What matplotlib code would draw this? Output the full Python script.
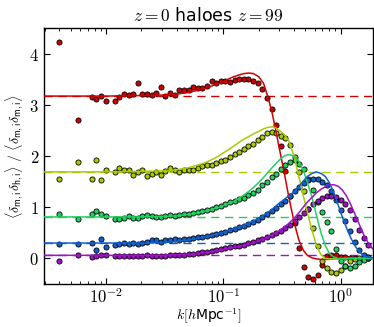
"""Cross-correlation bias of haloes vs. initial matter field, z=0 haloes, z=99 ICs."""

import matplotlib

matplotlib.use("Agg")
import matplotlib.pyplot as plt
import numpy as np
from matplotlib.ticker import FixedLocator, FuncFormatter, LogLocator, NullFormatter

# measured k bins [h/Mpc]
k = [0.0040, 0.0058,
     0.00755, 0.00827, 0.00905, 0.00991,
     0.01188, 0.01300, 0.01423, 0.01558, 0.01706, 0.01867, 0.02044, 0.02237,
     0.02449, 0.02681, 0.02935, 0.03213, 0.03517, 0.03850, 0.04214, 0.04613,
     0.05050, 0.05528, 0.06053, 0.06626, 0.07253, 0.07941, 0.08693, 0.09517,
     0.1042, 0.1140, 0.1248, 0.1367, 0.1496, 0.1638, 0.1793, 0.1963, 0.2149,
     0.2352, 0.2575, 0.2819, 0.3086, 0.3379, 0.3698, 0.4049, 0.4432, 0.4852,
     0.5312, 0.5815, 0.6366, 0.6969, 0.7629, 0.8351, 0.9141, 1.0007, 1.0955,
     1.1993, 1.3128, 1.4372, 1.5733, 1.7223]

ratio_red = [4.22, 2.71, 3.16, 3.12, 3.17, 3.07, 3.07, 3.15, 3.21, 3.19, 3.22, 3.42,
             3.22, 3.22, 3.19, 3.23, 3.34, 3.17, 3.23, 3.20, 3.28, 3.29, 3.29, 3.34,
             3.32, 3.32, 3.36, 3.46, 3.42, 3.46, 3.47, 3.44, 3.49, 3.51, 3.51, 3.50,
             3.47, 3.42, 3.30, 3.13, 2.91, 2.60, 2.19, 1.71, 1.21, 0.69, 0.20, -0.16,
             -0.36, -0.40, -0.32, -0.12, 0.05, 0.07, 0.07, 0.02, 0.02, 0.00, 0.00,
             -0.01, 0.00, 0.00]
ratio_yellow = [1.56, 1.88, 1.56, 1.93, 1.54, 1.73, 1.68, 1.77, 1.73, 1.73, 1.63, 1.68,
                1.73, 1.60, 1.65, 1.68, 1.63, 1.70, 1.76, 1.72, 1.68, 1.72, 1.72, 1.73,
                1.76, 1.80, 1.82, 1.83, 1.86, 1.90, 1.93, 1.98, 2.03, 2.08, 2.13, 2.19,
                2.24, 2.31, 2.38, 2.44, 2.46, 2.45, 2.39, 2.35, 2.22, 1.98, 1.68, 1.32,
                0.97, 0.59, 0.24, -0.05, -0.18, -0.27, -0.29, -0.22, -0.14, -0.05,
                -0.02, 0.00, 0.00, 0.01]
ratio_green = [0.87, 0.76, 0.87, 0.92, 0.87, 0.82, 0.76, 0.77, 0.79, 0.82, 0.78, 0.79,
               0.82, 0.84, 0.82, 0.80, 0.80, 0.82, 0.84, 0.82, 0.84, 0.86, 0.87, 0.88,
               0.90, 0.92, 0.95, 0.97, 1.00, 1.03, 1.07, 1.10, 1.13, 1.16, 1.18, 1.23,
               1.28, 1.34, 1.43, 1.50, 1.59, 1.65, 1.75, 1.83, 1.89, 1.92, 1.85, 1.75,
               1.56, 1.33, 1.10, 0.90, 0.72, 0.54, 0.18, -0.05, -0.14, -0.18, -0.14,
               -0.08, -0.03, 0.00]
ratio_blue = [0.29, 0.28, 0.31, 0.17, 0.38, 0.22, 0.26, 0.28, 0.30, 0.29, 0.30, 0.29,
              0.30, 0.33, 0.35, 0.35, 0.33, 0.35, 0.35, 0.37, 0.36, 0.37, 0.38, 0.39,
              0.41, 0.41, 0.43, 0.45, 0.47, 0.50, 0.52, 0.55, 0.58, 0.61, 0.64, 0.67,
              0.72, 0.75, 0.80, 0.86, 0.92, 0.99, 1.06, 1.13, 1.22, 1.31, 1.40, 1.47,
              1.53, 1.56, 1.55, 1.50, 1.43, 1.31, 1.15, 0.95, 0.74, 0.53, 0.33, 0.17,
              0.06, 0.02]
ratio_purple = [-0.05, 0.06, 0.03, 0.05, 0.07, 0.07, 0.05, 0.05, 0.05, 0.04, 0.04, 0.05,
                0.05, 0.06, 0.05, 0.05, 0.05, 0.05, 0.06, 0.06, 0.07, 0.07, 0.08, 0.09,
                0.10, 0.12, 0.13, 0.15, 0.16, 0.18, 0.20, 0.22, 0.24, 0.25, 0.27, 0.30,
                0.32, 0.35, 0.38, 0.41, 0.45, 0.49, 0.54, 0.60, 0.66, 0.73, 0.81, 0.89,
                0.97, 1.06, 1.12, 1.18, 1.21, 1.22, 1.20, 1.15, 1.07, 0.94, 0.76, 0.56,
                0.39, 0.26]

k_model = [0.003, 0.01, 0.02, 0.03, 0.04, 0.05, 0.06, 0.07, 0.08, 0.09, 0.10, 0.11,
           0.12, 0.135, 0.15, 0.165, 0.18, 0.20, 0.22, 0.24, 0.26, 0.28, 0.30, 0.33,
           0.36, 0.40, 0.44, 0.48, 0.52, 0.57, 0.62, 0.68, 0.74, 0.80, 0.87, 0.95,
           1.03, 1.12, 1.22, 1.33, 1.45, 1.58, 1.72, 1.90]
model_red = [3.17, 3.17, 3.18, 3.19, 3.21, 3.24, 3.28, 3.32, 3.37, 3.41, 3.45, 3.50,
             3.54, 3.58, 3.61, 3.62, 3.61, 3.55, 3.42, 3.15, 2.85, 2.50, 2.15, 1.68,
             1.22, 0.72, 0.36, 0.16, 0.06, 0.01, -0.01, -0.02, -0.02, -0.02, -0.01,
             -0.01, -0.01, 0.00, 0.00, 0.00, 0.00, 0.00, 0.00, 0.00]
model_yellow = [1.69, 1.69, 1.70, 1.71, 1.73, 1.77, 1.82, 1.87, 1.93, 1.99, 2.06, 2.12,
                2.18, 2.26, 2.33, 2.38, 2.43, 2.48, 2.53, 2.56, 2.57, 2.55, 2.50, 2.42,
                2.30, 2.00, 1.60, 1.23, 0.90, 0.55, 0.26, 0.07, 0.00, -0.01, -0.01,
                -0.01, 0.00, 0.00, 0.00, 0.00, 0.00, 0.00, 0.00, 0.00]
model_green = [0.81, 0.81, 0.81, 0.82, 0.83, 0.86, 0.89, 0.92, 0.96, 0.99, 1.03, 1.07,
               1.10, 1.17, 1.24, 1.31, 1.38, 1.48, 1.58, 1.68, 1.77, 1.85, 1.92, 2.00,
               2.03, 2.00, 1.90, 1.72, 1.48, 1.20, 0.85, 0.50, 0.25, 0.10, 0.03, 0.00,
               -0.01, -0.01, 0.00, 0.00, 0.00, 0.00, 0.00, 0.00]
model_blue = [0.30, 0.30, 0.30, 0.31, 0.33, 0.36, 0.39, 0.42, 0.45, 0.48, 0.51, 0.54,
              0.57, 0.61, 0.65, 0.69, 0.73, 0.78, 0.84, 0.90, 0.96, 1.02, 1.08, 1.15,
              1.22, 1.30, 1.40, 1.51, 1.60, 1.66, 1.69, 1.66, 1.60, 1.48, 1.30, 1.05,
              0.82, 0.60, 0.40, 0.24, 0.12, 0.05, 0.02, 0.01]
model_purple = [0.06, 0.06, 0.06, 0.06, 0.07, 0.08, 0.09, 0.11, 0.13, 0.15, 0.17, 0.19,
                0.21, 0.23, 0.26, 0.28, 0.31, 0.34, 0.38, 0.42, 0.46, 0.50, 0.54, 0.61,
                0.68, 0.78, 0.89, 1.00, 1.10, 1.19, 1.28, 1.35, 1.40, 1.43, 1.44, 1.41,
                1.34, 1.22, 1.05, 0.85, 0.65, 0.45, 0.30, 0.17]

# large-scale bias (dashed)
bias = [3.17, 1.69, 0.81, 0.30, 0.06]

plt.rcParams["mathtext.fontset"] = "cm"

colors = ["#d00000", "#a8cc00", "#22d060", "#1060d0", "#a010c8"]
ratios = [ratio_red, ratio_yellow, ratio_green, ratio_blue, ratio_purple]
models = [model_red, model_yellow, model_green, model_blue, model_purple]

fig = plt.figure(figsize=(3.74, 3.27), dpi=100)
ax = fig.add_axes([0.1176, 0.1315, 0.8797, 0.7829])

for c, r, m, b in zip(colors, ratios, models, bias):
    ax.axhline(b, color=c, lw=1.0, dashes=(6, 4), zorder=1)
    ax.plot(k, r, "o", ms=3.7, mfc=c, mec="k", mew=0.6, zorder=2)
    ax.plot(k_model, m, "-", color=c, lw=1.1, zorder=3)

ax.set_xscale("log")
ax.set_xlim(0.00296, 1.886)
ax.set_ylim(-0.5, 4.5)

ax.xaxis.set_major_locator(FixedLocator([1e-2, 1e-1, 1e0]))
ax.xaxis.set_minor_locator(LogLocator(base=10, subs=np.arange(2, 10), numticks=20))
ax.xaxis.set_minor_formatter(NullFormatter())
ax.xaxis.set_major_formatter(FuncFormatter(lambda v, p: r"$10^{%d}$" % round(np.log10(v))))
ax.yaxis.set_major_locator(FixedLocator([0, 1, 2, 3, 4]))
ax.yaxis.set_major_formatter(FuncFormatter(lambda v, p: r"$%d$" % v))

ax.tick_params(which="both", direction="in", top=True, right=True, labelsize=12)
ax.tick_params(axis="x", which="major", pad=3)
ax.tick_params(which="major", length=4, width=0.8)
ax.tick_params(which="minor", length=2, width=0.6)
for s in ax.spines.values():
    s.set_linewidth(1.0)

ax.set_title(r"$z=0$ haloes $z=99$", fontsize=12.5, pad=5)
ax.set_xlabel(r"$k[h$Mpc$^{-1}]$", fontsize=10, labelpad=0)
ax.set_ylabel(r"$\langle\delta_{\mathsf{m,i}}\delta_{\mathsf{h,i}}\rangle\ /\ "
              r"\langle\delta_{\mathsf{m,i}}\delta_{\mathsf{m,i}}\rangle$",
              fontsize=10, labelpad=2)

fig.savefig("out.png", dpi=100)
plt.close(fig)
